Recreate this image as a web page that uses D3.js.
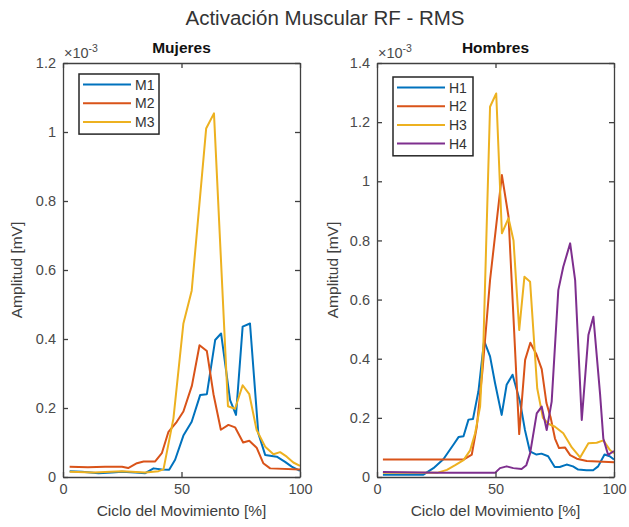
<!DOCTYPE html>
<html>
<head>
<meta charset="utf-8">
<script src="https://cdn.jsdelivr.net/npm/d3@7"></script>
<style>
  body { margin: 0; background: #fff; }
  text { font-family: "Liberation Sans", Arial, sans-serif; }
</style>
</head>
<body>
<script>
// values in units of 1e-3 mV, x in % of cycle
const m1 = [[2.8,0.017],[8,0.015],[15,0.011],[20.6,0.013],[24.9,0.015],[30.5,0.013],[34.7,0.011],[38.2,0.025],[41.7,0.022],[44.8,0.021],[47.3,0.05],[50.8,0.12],[54.3,0.16],[57.9,0.238],[60.7,0.24],[64.2,0.397],[66.7,0.416],[70.5,0.223],[73,0.18],[75.8,0.436],[78.9,0.445],[82.4,0.127],[85.3,0.064],[90.2,0.059],[93.7,0.044],[96.5,0.03],[100,0.018]];
const m2 = [[2.8,0.03],[10.5,0.028],[17.8,0.03],[24.9,0.03],[27.5,0.026],[31.2,0.04],[34,0.045],[38.9,0.045],[41.7,0.069],[44.5,0.131],[48,0.16],[50.8,0.19],[54.4,0.265],[57.6,0.382],[60.7,0.365],[63.5,0.24],[66.6,0.137],[69.8,0.151],[72.6,0.144],[76,0.1],[78.6,0.105],[81.7,0.085],[84.5,0.04],[87.4,0.025],[100,0.022]];
const m3 = [[2.8,0.015],[13,0.013],[24.9,0.017],[34.7,0.013],[40.3,0.017],[42.4,0.022],[46.6,0.17],[50.8,0.445],[54.3,0.54],[60.4,1.01],[63.7,1.054],[69.6,0.205],[72.6,0.198],[75.8,0.266],[78.6,0.24],[81.7,0.136],[85.3,0.088],[88.8,0.066],[91.6,0.072],[94.4,0.059],[97.2,0.042],[100,0.032]];

const h1 = [[2.5,0.008],[19.6,0.008],[23.8,0.03],[28,0.06],[32.3,0.11],[34.4,0.135],[36.5,0.138],[38.6,0.194],[40.5,0.196],[42.8,0.29],[45.2,0.46],[47.7,0.408],[49.8,0.318],[52.6,0.21],[54.7,0.312],[57.2,0.346],[60.3,0.256],[62.4,0.16],[64.5,0.087],[67.3,0.076],[69.4,0.079],[72.2,0.07],[75,0.034],[77.1,0.034],[80,0.042],[82.7,0.036],[84.9,0.025],[88.4,0.023],[91.2,0.023],[93.3,0.036],[96,0.076],[98.2,0.07],[100,0.059]];
const h2 = [[2.5,0.059],[36.5,0.059],[40,0.076],[42.1,0.17],[44.5,0.36],[47.7,0.666],[52.7,1.021],[55.5,0.88],[60,0.145],[62.5,0.396],[64.7,0.454],[67.3,0.414],[69.5,0.365],[71.5,0.25],[73.3,0.2],[75.1,0.13],[76.8,0.098],[79.3,0.1],[81.5,0.074],[84.3,0.062],[88.5,0.054],[100,0.05]];
const h3 = [[2.5,0.014],[25.3,0.014],[29.5,0.024],[33,0.04],[36.5,0.057],[39.3,0.09],[41.4,0.148],[43.5,0.238],[44.9,0.453],[47.7,1.252],[50.3,1.297],[52.7,0.824],[55.5,0.875],[57.6,0.8],[60,0.497],[62.2,0.677],[64.6,0.66],[67.6,0.3],[70,0.2],[72.3,0.18],[75.1,0.17],[78.6,0.148],[82.2,0.1],[85.7,0.066],[89.2,0.114],[92.7,0.116],[95.5,0.124],[98.3,0.091],[100,0.08]];
const h4 = [[2.5,0.017],[26.6,0.014],[49.8,0.014],[51.9,0.03],[54.7,0.036],[57.5,0.03],[61,0.027],[63,0.04],[64.6,0.08],[67.4,0.215],[69.5,0.238],[71.6,0.159],[73.7,0.255],[76.5,0.632],[78.6,0.711],[81.5,0.79],[83.6,0.666],[86.4,0.193],[89.2,0.48],[91.3,0.542],[94.1,0.283],[95.5,0.13],[97.5,0.075],[100,0.088]];

const namesM = ["M1", "M2", "M3"];
const namesH = ["H1", "H2", "H3", "H4"];
const colors = ["#0072BD", "#D95319", "#EDB120", "#7E2F8E"];
const xTicks = [0, 50, 100];
const yTicksM = [0, 0.2, 0.4, 0.6, 0.8, 1, 1.2];
const yTicksH = [0, 0.2, 0.4, 0.6, 0.8, 1, 1.2, 1.4];

const W = 629, H = 527;
const axisColor = "#404040";

const svg = d3.select("body").append("svg")
  .attr("width", W).attr("height", H);

svg.append("text")
  .attr("x", 325).attr("y", 25)
  .attr("text-anchor", "middle")
  .style("font-size", "20.5px")
  .style("fill", "#333")
  .text("Activación Muscular RF - RMS");

function panel(opt) {
  const x = d3.scaleLinear().domain([0, 100]).range([opt.left, opt.right]);
  const y = d3.scaleLinear().domain([0, opt.ymax]).range([477, 63]);
  const g = svg.append("g");

  // lines
  const line = d3.line().x(d => x(d[0])).y(d => y(d[1]));
  opt.series.forEach((s, i) => {
    g.append("path")
      .datum(s)
      .attr("d", line)
      .attr("fill", "none")
      .attr("stroke", colors[i])
      .attr("stroke-width", 2)
      .attr("stroke-linejoin", "round");
  });

  // axes (inward ticks on all four sides)
  const ax = [
    [d3.axisBottom(x).tickValues(xTicks).tickFormat(d3.format("d")), "translate(0,477)"],
    [d3.axisTop(x).tickValues(xTicks).tickFormat(""), "translate(0,63)"],
    [d3.axisLeft(y).tickValues(opt.yticks).tickFormat(d => d3.format("~g")(+d.toFixed(1))), "translate(" + opt.left + ",0)"],
    [d3.axisRight(y).tickValues(opt.yticks).tickFormat(""), "translate(" + opt.right + ",0)"]
  ];
  ax.forEach(a => {
    const ag = g.append("g")
      .attr("transform", a[1])
      .call(a[0].tickSizeInner(-5).tickSizeOuter(0).tickPadding(7));
    ag.select(".domain").attr("stroke", axisColor).attr("stroke-width", 1.3);
    ag.selectAll(".tick line").attr("stroke", axisColor).attr("stroke-width", 1.3);
    ag.selectAll(".tick text")
      .style("font-size", "14.5px")
      .style("font-family", "'Liberation Sans', Arial, sans-serif")
      .attr("fill", "#4a4a4a");
  });

  // exponent
  const ex = g.append("text")
    .attr("x", opt.left + 1).attr("y", 58)
    .style("font-size", "14.5px")
    .attr("fill", "#4a4a4a")
    .text("×10");
  ex.append("tspan").attr("dy", -6).style("font-size", "10.5px").text("-3");

  // subplot title
  g.append("text")
    .attr("x", (opt.left + opt.right) / 2).attr("y", 53)
    .attr("text-anchor", "middle")
    .style("font-size", "15.5px")
    .style("font-weight", "bold")
    .attr("fill", "#111")
    .text(opt.title);

  // axis labels
  g.append("text")
    .attr("x", (opt.left + opt.right) / 2).attr("y", 516)
    .attr("text-anchor", "middle")
    .style("font-size", "15.5px")
    .attr("fill", "#404040")
    .text("Ciclo del Movimiento [%]");
  g.append("text")
    .attr("transform", "translate(" + opt.ylabx + ",270) rotate(-90)")
    .attr("text-anchor", "middle")
    .style("font-size", "15.5px")
    .attr("fill", "#404040")
    .text("Amplitud [mV]");

  // legend
  const lg = g.append("g").attr("transform", "translate(" + opt.leg[0] + "," + opt.leg[1] + ")");
  const rowH = 18.7;
  lg.append("rect")
    .attr("width", opt.leg[2]).attr("height", opt.names.length * rowH + 4)
    .attr("fill", "#fff").attr("stroke", "#262626").attr("stroke-width", 1.5);
  opt.names.forEach((n, i) => {
    const yy = 10.5 + i * rowH;
    lg.append("line")
      .attr("x1", 4).attr("x2", 52).attr("y1", yy).attr("y2", yy)
      .attr("stroke", colors[i]).attr("stroke-width", 2);
    lg.append("text")
      .attr("x", 56).attr("y", yy + 5)
      .style("font-size", "14px")
      .attr("fill", "#333")
      .text(n);
  });
}

panel({ left: 63, right: 300, ymax: 1.2, yticks: yTicksM, series: [m1, m2, m3],
  names: namesM, title: "Mujeres", ylabx: 22, leg: [79, 74, 80] });
panel({ left: 377, right: 614, ymax: 1.4, yticks: yTicksH, series: [h1, h2, h3, h4],
  names: namesH, title: "Hombres", ylabx: 338, leg: [393, 77, 80] });
</script>
</body>
</html>
